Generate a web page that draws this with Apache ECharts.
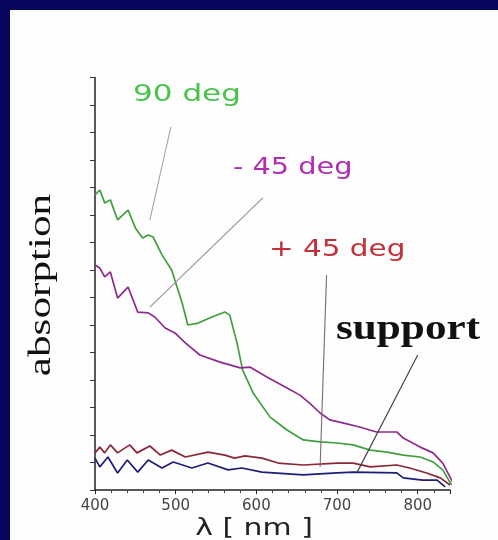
<!DOCTYPE html>
<html>
<head>
<meta charset="utf-8">
<script src="https://cdn.jsdelivr.net/npm/echarts@6/dist/echarts.min.js"></script>
<style>
  html, body { margin: 0; padding: 0; background: #06065c; }
  #chart { width: 498px; height: 540px; }
</style>
</head>
<body>
<div id="chart"></div>
<script>
// Absorption spectra of the film at three polarisation angles and the bare support
const xTicks = [400, 500, 600, 700, 800];

const nm90 = [400,406,412,419,428,441,450,459,466,472,483,495,508,515,528,545,561,567,576,583,596,617,638,658,679,700,720,741,762,782,803,819,831,842];
const abs90 = [1.073,1.091,1.044,1.055,0.982,1.018,0.953,0.916,0.927,0.920,0.855,0.800,0.680,0.600,0.607,0.629,0.647,0.636,0.535,0.436,0.353,0.265,0.218,0.182,0.175,0.171,0.164,0.145,0.138,0.127,0.120,0.102,0.073,0.018];

const nmMinus45 = [400,406,412,419,428,441,453,466,474,487,499,512,530,555,580,592,613,638,654,666,679,691,707,728,749,774,782,803,819,831,844];
const absMinus45 = [0.818,0.807,0.775,0.793,0.698,0.738,0.647,0.644,0.629,0.589,0.571,0.535,0.491,0.465,0.444,0.447,0.411,0.371,0.345,0.316,0.280,0.255,0.244,0.229,0.211,0.211,0.189,0.156,0.135,0.098,0.025];

const nmPlus45 = [400,406,412,419,428,443,452,468,481,495,512,540,561,573,586,607,627,658,700,720,741,774,790,811,828,840];
const absPlus45 = [0.135,0.156,0.135,0.164,0.135,0.164,0.135,0.160,0.127,0.145,0.120,0.138,0.127,0.116,0.124,0.116,0.098,0.091,0.098,0.098,0.084,0.091,0.080,0.062,0.044,0.018];

const nmSupport = [400,406,416,428,440,453,466,483,497,520,540,565,582,607,658,700,720,774,782,806,824,834];
const absSupport = [0.116,0.084,0.120,0.062,0.109,0.065,0.109,0.080,0.102,0.080,0.098,0.073,0.080,0.065,0.055,0.062,0.065,0.062,0.044,0.036,0.036,0.011];

// Leader lines from each caption to its curve, in (nm, absorption) units
const leader90 = [[494, 1.32], [468, 0.982]];
const leaderMinus45 = [[608, 1.062], [468, 0.665]];
const leaderPlus45 = [[687, 0.782], [679, 0.084]];
const leaderSupport = [[800, 0.491], [725, 0.065]];

const pairs = (xs, ys) => xs.map((x, i) => [x, ys[i]]);

function curve(name, xs, ys, color) {
  return {
    name, type: 'line', data: pairs(xs, ys), showSymbol: false, silent: true,
    lineStyle: { color, width: 1.7 }, z: 3
  };
}
function leader(pts, color) {
  return {
    type: 'line', data: pts, showSymbol: false, silent: true,
    lineStyle: { color, width: 1.1 }, z: 4
  };
}

const sans = '"DejaVu Sans", sans-serif';
const serif = '"Liberation Serif", "DejaVu Serif", serif';

const chart = echarts.init(document.getElementById('chart'), null, { renderer: 'canvas' });
chart.setOption({
  backgroundColor: '#06065c',
  animation: false,
  grid: { left: 95, right: 48, top: 77.5, bottom: 50, containLabel: false },
  xAxis: {
    type: 'value', min: 400, max: 840, interval: 100,
    axisLine: { lineStyle: { color: '#222', width: 1.5 } },
    axisTick: { length: 4, lineStyle: { color: '#222' } },
    minorTick: { show: true, splitNumber: 5, length: 3, lineStyle: { color: '#444' } },
    splitLine: { show: false },
    axisLabel: {
      margin: 9, color: '#444', fontFamily: sans, fontSize: 15,
      formatter: v => (xTicks.includes(v) ? String(v) : '')
    }
  },
  yAxis: {
    type: 'value', min: 0, max: 1.5, interval: 0.1,
    axisLine: { show: true, lineStyle: { color: '#222', width: 1.5 } },
    axisTick: { show: true, length: 5, lineStyle: { color: '#333' } },
    axisLabel: { show: false },
    splitLine: { show: false }
  },
  series: [
    curve('90 deg', nm90, abs90, '#3f9f3f'),
    curve('- 45 deg', nmMinus45, absMinus45, '#8e2a8e'),
    curve('+ 45 deg', nmPlus45, absPlus45, '#8a2838'),
    curve('support', nmSupport, absSupport, '#1e1e78'),
    leader(leader90, '#9aa89a'),
    leader(leaderMinus45, '#a0889a'),
    leader(leaderPlus45, '#806868'),
    leader(leaderSupport, '#3a3a4a')
  ],
  graphic: [
    // white slide panel behind the plot
    { type: 'rect', z: -100, shape: { x: 10, y: 10, width: 488, height: 530 }, style: { fill: '#fefefe' } },
    // captions
    { type: 'text', x: 133, y: 95, scaleX: 1.35, z: 10,
      style: { text: '90 deg', font: '23px ' + sans, fill: '#48c448', textAlign: 'left', textVerticalAlign: 'middle' } },
    { type: 'text', x: 233, y: 168, scaleX: 1.25, z: 10,
      style: { text: '- 45 deg', font: '23px ' + sans, fill: '#b02cb0', textAlign: 'left', textVerticalAlign: 'middle' } },
    { type: 'text', x: 269, y: 250, scaleX: 1.28, z: 10,
      style: { text: '+ 45 deg', font: '23px ' + sans, fill: '#c43038', textAlign: 'left', textVerticalAlign: 'middle' } },
    { type: 'text', x: 336, y: 312, scaleX: 1.2, z: 10,
      style: { text: 'support', font: 'bold 36px ' + serif, fill: '#111', textAlign: 'left', textVerticalAlign: 'alphabetic' } },
    // axis titles
    { type: 'text', x: 254, y: 529, scaleX: 1.3, z: 10,
      style: { text: 'λ [ nm ]', font: '23px ' + sans, fill: '#222', textAlign: 'center', textVerticalAlign: 'middle' } },
    { type: 'text', x: 42, y: 285, rotation: Math.PI / 2, scaleX: 1.35, z: 10,
      style: { text: 'absorption', font: '32px ' + serif, fill: '#111', textAlign: 'center', textVerticalAlign: 'middle' } }
  ]
});
</script>
</body>
</html>
